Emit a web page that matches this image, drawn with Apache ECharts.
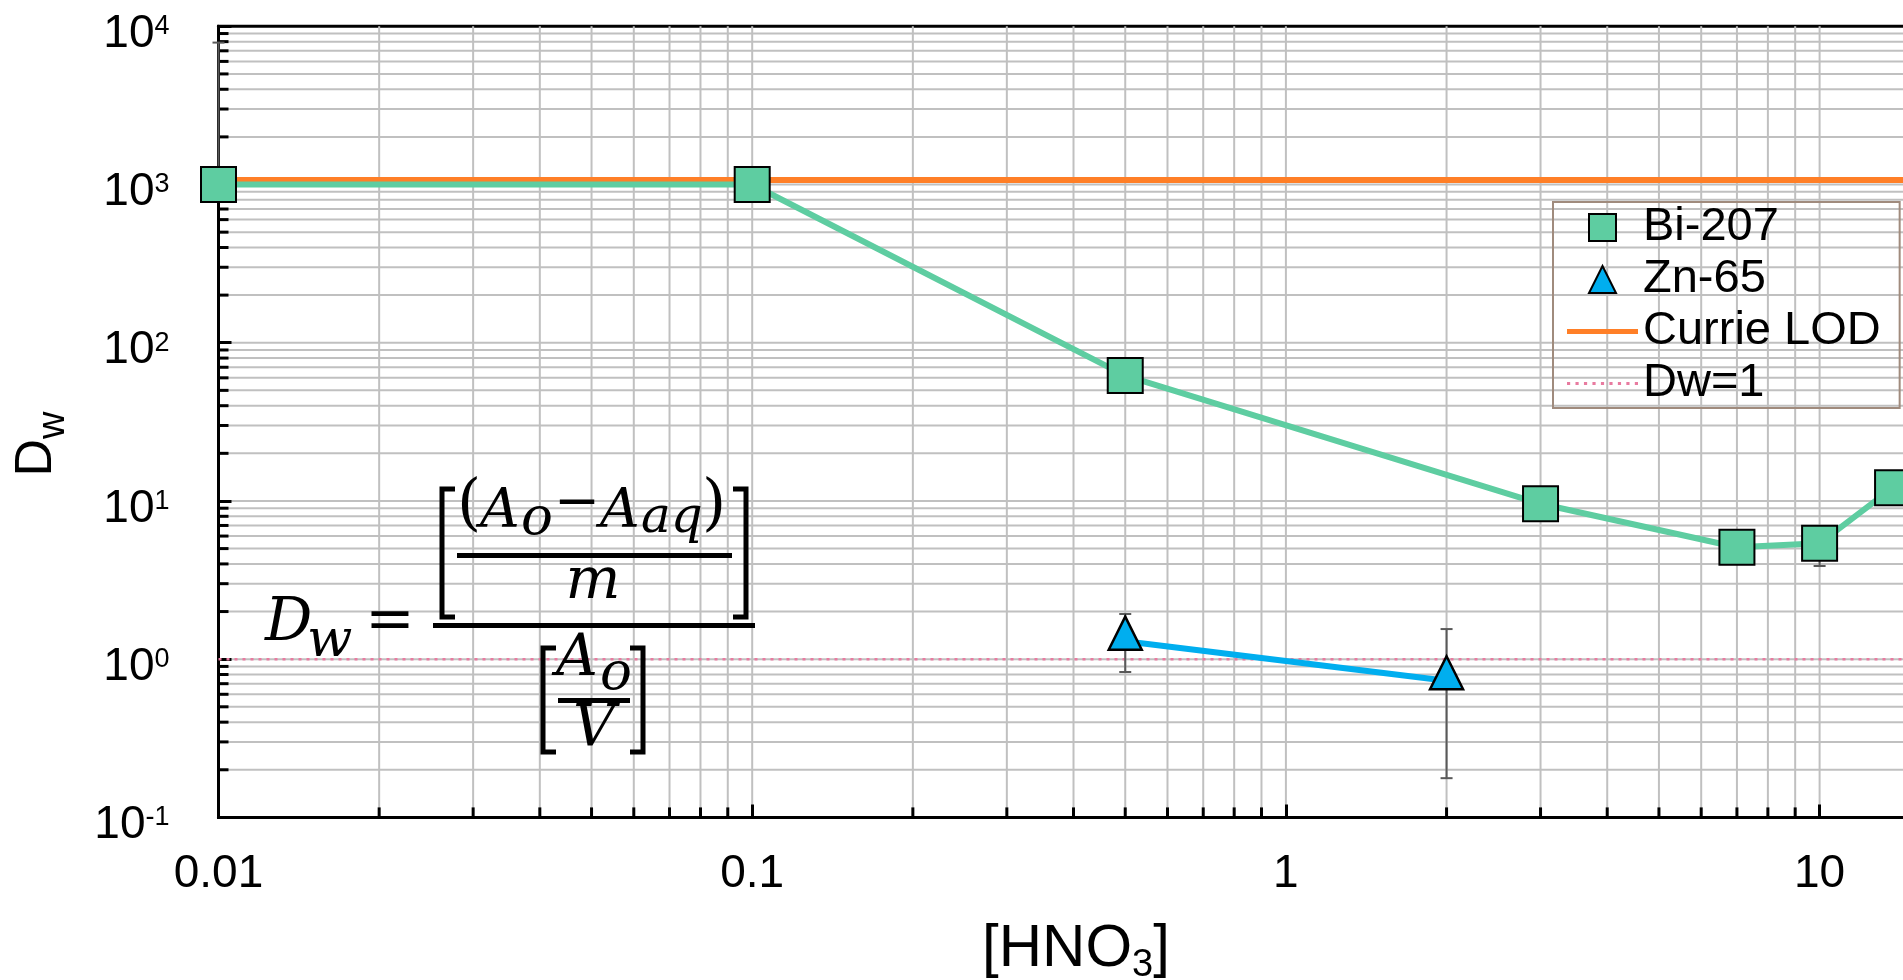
<!DOCTYPE html>
<html><head><meta charset="utf-8">
<script src="https://cdn.jsdelivr.net/npm/echarts@6/dist/echarts.min.js"></script>
<style>html,body{margin:0;padding:0;background:#fff}#c{width:1903px;height:980px}</style>
</head><body><div id="c"></div>
<script>
// ---- data ----
const biX = [0.01, 0.1, 0.5, 3, 7, 10, 13.7];
const biY = [1000, 1000, 62, 9.6, 5.1, 5.4, 12.1];
const znX = [0.5, 2];
const znY = [1.30, 0.73];
const biErrX = [0.01, 10];
const biErrLow = [1000, 3.88];
const biErrHigh = [7890, 5.4];
const znErrX = [0.5, 2];
const znErrLow = [0.83, 0.177];
const znErrHigh = [1.93, 1.55];
const lodX = [0.01, 100];
const lodY = [1069, 1069];
const dw1X = [0.01, 100];
const dw1Y = [1, 1];
const xTickLabels = ['0.01', '0.1', '1', '10', '100'];
const yTickExponents = ['-1', '0', '1', '2', '3', '4'];
const xDecades = [0.01, 0.1, 1, 10];
const yDecades = [0.1, 1, 10, 100, 1000];
const minorSteps = [2, 3, 4, 5, 6, 7, 8, 9];

// ---- styles ----
const FONT = '"Liberation Sans", Arial, sans-serif';
const SERIF = '"DejaVu Serif", "Liberation Serif", serif';
const GRID = '#C0C0C0';
const GREEN = '#5ECDA1';
const BLUE = '#00AEEF';
const ORANGE = '#FF7F27';
const PINK = '#E87BA0';
const LINE_W = 6;

// gridline values (major flag in 3rd dim)
const xGridData = [];
xDecades.forEach((d, i) => {
  if (i > 0) xGridData.push([d, 1, 1]);
  minorSteps.forEach(m => xGridData.push([+(d * m).toPrecision(6), 1, 0]));
});
xGridData.push([100, 1, 1]);
const yGridData = [];
yDecades.forEach((d, i) => {
  if (i > 0) yGridData.push([1, d, 1]);
  minorSteps.forEach(m => yGridData.push([1, +(d * m).toPrecision(6), 0]));
});

function renderXGrid(params, api) {
  const cs = params.coordSys;
  const x = api.coord([api.value(0), 1])[0];
  const ch = [{type: 'line', shape: {x1: x, y1: cs.y, x2: x, y2: cs.y + cs.height}, style: {stroke: GRID, lineWidth: 2}}];
  if (api.value(2) !== 1) ch.push({type: 'line', shape: {x1: x, y1: cs.y + cs.height, x2: x, y2: cs.y + cs.height - 10}, style: {stroke: '#000', lineWidth: 3}});
  return {type: 'group', children: ch};
}
function renderYGrid(params, api) {
  const cs = params.coordSys;
  const y = api.coord([1, api.value(1)])[1];
  const ch = [{type: 'line', shape: {x1: cs.x, y1: y, x2: cs.x + cs.width, y2: y}, style: {stroke: GRID, lineWidth: 2}}];
  if (api.value(2) !== 1) ch.push({type: 'line', shape: {x1: cs.x, y1: y, x2: cs.x + 10, y2: y}, style: {stroke: '#000', lineWidth: 3}});
  return {type: 'group', children: ch};
}
function renderErr(params, api) {
  const x = api.value(0);
  const pLo = api.coord([x, api.value(1)]);
  const pHi = api.coord([x, api.value(2)]);
  const w = 6, st = {stroke: '#595959', lineWidth: 2};
  return {type: 'group', children: [
    {type: 'line', shape: {x1: pLo[0], y1: pLo[1], x2: pHi[0], y2: pHi[1]}, style: st},
    {type: 'line', shape: {x1: pHi[0] - w, y1: pHi[1], x2: pHi[0] + w, y2: pHi[1]}, style: st},
    {type: 'line', shape: {x1: pLo[0] - w, y1: pLo[1], x2: pLo[0] + w, y2: pLo[1]}, style: st}
  ]};
}

function txt(t, x, y, fstyle, size, align) {
  return {type: 'text', x: x, y: y, z: 100, silent: true,
    style: {text: t, fontStyle: fstyle, fontSize: size, fontFamily: SERIF, fill: '#000',
      textAlign: align, align: align, textVerticalAlign: 'middle', verticalAlign: 'middle'}};
}
function bar(x, y, w, h) {
  return {type: 'rect', z: 100, silent: true, shape: {x: x, y: y, width: w, height: h}, style: {fill: '#000'}};
}
function bracket(pts) {
  return {type: 'polyline', z: 100, silent: true, shape: {points: pts}, style: {stroke: '#000', lineWidth: 5, fill: null}};
}

const graphics = [
  txt('D', 265, 625, 'italic', 59, 'left'),
  txt('w', 307, 642, 'italic', 53, 'left'),
  txt('=', 390, 624, 'normal', 59, 'center'),
  txt('(', 457, 507, 'normal', 62, 'left'),
  txt('A', 480, 513, 'italic', 55, 'left'),
  txt('o', 521, 520, 'italic', 53, 'left'),
  txt('\u2212', 577, 505, 'normal', 55, 'center'),
  txt('A', 600, 513, 'italic', 55, 'left'),
  txt('aq', 641, 519, 'italic', 50, 'left'),
  txt(')', 702, 507, 'normal', 62, 'left'),
  txt('m', 593, 583, 'italic', 58, 'center'),
  txt('A', 556, 660, 'italic', 58, 'left'),
  txt('o', 600, 675, 'italic', 53, 'left'),
  txt('V', 594, 730, 'italic', 58, 'center'),
  bar(433, 623, 322, 5),
  bar(457, 553, 275, 5),
  bar(558, 698, 72, 5),
  bracket([[455, 489], [442, 489], [442, 617], [455, 617]]),
  bracket([[733, 489], [746, 489], [746, 617], [733, 617]]),
  bracket([[556, 648], [543, 648], [543, 752], [556, 752]]),
  bracket([[630, 648], [643, 648], [643, 752], [630, 752]]),
  // x axis title
  {type: 'text', x: 1076, y: 949, z: 100, silent: true,
    style: {text: '{m|[HNO}{s|3}{m|]}', textAlign: 'center', align: 'center', textVerticalAlign: 'middle', verticalAlign: 'middle',
      rich: {m: {fontSize: 60, fontFamily: FONT, fill: '#000', lineHeight: 72},
             s: {fontSize: 38, fontFamily: FONT, fill: '#000', verticalAlign: 'bottom'}}}},
  // y axis title
  {type: 'text', x: 37, y: 444, rotation: Math.PI / 2, z: 100, silent: true,
    style: {text: '{m|D}{s|w}', textAlign: 'center', align: 'center', textVerticalAlign: 'middle', verticalAlign: 'middle',
      rich: {m: {fontSize: 52, fontFamily: FONT, fill: '#000', lineHeight: 71},
             s: {fontSize: 38, fontFamily: FONT, fill: '#000', verticalAlign: 'bottom'}}}}
];

// legend icons
const LINE_ICON = 'path://M0 0H71V5H0Z';
let dots = '';
for (let k = 0; k < 9; k++) { const x0 = k * 8; dots += 'M' + x0 + ' 0H' + (x0 + 3) + 'V3H' + x0 + 'Z'; }
const DOT_ICON = 'path://' + dots;

const chart = echarts.init(document.getElementById('c'), null, {renderer: 'canvas', width: 1903, height: 980});
chart.setOption({
  animation: false,
  backgroundColor: '#fff',
  grid: {left: 218.5, right: -450.3, top: 26.3, bottom: 162.6, show: true, borderColor: '#000', borderWidth: 3,
    backgroundColor: 'transparent', containLabel: false, outerBoundsMode: 'none'},
  xAxis: {type: 'log', logBase: 10, min: 0.01, max: 100, z: 1.5,
    axisLine: {show: true, onZero: false, lineStyle: {color: '#000', width: 3}},
    axisTick: {show: true, inside: true, length: 13, lineStyle: {color: '#000', width: 3}},
    splitLine: {show: false}, minorTick: {show: false}, minorSplitLine: {show: false},
    axisLabel: {fontSize: 46, fontFamily: FONT, color: '#000', margin: 34, hideOverlap: false,
      formatter: v => xTickLabels[Math.round(Math.log10(v)) + 2]}},
  yAxis: {type: 'log', logBase: 10, min: 0.1, max: 10000, z: 1.5,
    axisLine: {show: true, onZero: false, lineStyle: {color: '#000', width: 3}},
    axisTick: {show: true, inside: true, length: 13, lineStyle: {color: '#000', width: 3}},
    splitLine: {show: false}, minorTick: {show: false}, minorSplitLine: {show: false},
    axisLabel: {margin: 49, padding: [16, 0, 0, 0], hideOverlap: false,
      formatter: v => '{b|10}{s|' + yTickExponents[Math.round(Math.log10(v)) + 1] + '}',
      rich: {b: {fontSize: 46, fontFamily: FONT, color: '#000', lineHeight: 42},
             s: {fontSize: 27, fontFamily: FONT, color: '#000', verticalAlign: 'top'}}}},
  legend: {
    orient: 'vertical', left: 1553, top: 202, padding: [2, 19, 1, 14], itemGap: 5,
    itemWidth: 71, itemHeight: 27, borderColor: '#A08B7D', borderWidth: 2, backgroundColor: 'transparent',
    selectedMode: false,
    textStyle: {fontFamily: FONT, fontSize: 47, color: '#000', lineHeight: 47},
    data: [
      {name: 'Bi-207', icon: 'path://M0 0H10V10H0Z', itemStyle: {color: GREEN, borderColor: '#000', borderWidth: 2}},
      {name: 'Zn-65', icon: 'path://M5 0L10 10L0 10Z', itemStyle: {color: BLUE, borderColor: '#000', borderWidth: 2}},
      {name: 'Currie LOD', icon: LINE_ICON, itemStyle: {color: ORANGE, borderWidth: 0}},
      {name: 'Dw=1', icon: DOT_ICON, itemStyle: {color: PINK, borderWidth: 0}}
    ]
  },
  graphic: {elements: graphics},
  series: [
    {type: 'custom', name: 'xgrid', silent: true, z: 1, renderItem: renderXGrid, data: xGridData, encode: {x: 0, y: 1}},
    {type: 'custom', name: 'ygrid', silent: true, z: 1, renderItem: renderYGrid, data: yGridData, encode: {x: 0, y: 1}},
    {type: 'line', name: 'Dw=1', silent: true, z: 2, symbol: 'none',
      lineStyle: {color: PINK, width: 2.5, type: [3, 5]}, itemStyle: {color: PINK},
      data: dw1X.map((x, i) => [x, dw1Y[i]])},
    {type: 'line', name: 'Currie LOD', silent: true, z: 2.2, symbol: 'none',
      lineStyle: {color: ORANGE, width: LINE_W}, itemStyle: {color: ORANGE},
      data: lodX.map((x, i) => [x, lodY[i]])},
    {type: 'custom', name: 'biErr', silent: true, z: 2.4, renderItem: renderErr, encode: {x: 0, y: [1, 2]},
      data: biErrX.map((x, i) => [x, biErrLow[i], biErrHigh[i]])},
    {type: 'custom', name: 'znErr', silent: true, z: 2.4, renderItem: renderErr, encode: {x: 0, y: [1, 2]},
      data: znErrX.map((x, i) => [x, znErrLow[i], znErrHigh[i]])},
    {type: 'line', name: 'Bi-207', silent: true, z: 3, symbol: 'rect', symbolSize: 35, showAllSymbol: true,
      lineStyle: {color: GREEN, width: LINE_W}, itemStyle: {color: GREEN, borderColor: '#000', borderWidth: 2, opacity: 1},
      data: biX.map((x, i) => [x, biY[i]])},
    {type: 'line', name: 'Zn-65', silent: true, z: 3, symbol: 'triangle', symbolSize: [33, 33], symbolOffset: [0, -8], showAllSymbol: true,
      lineStyle: {color: BLUE, width: LINE_W}, itemStyle: {color: BLUE, borderColor: '#000', borderWidth: 2.5, opacity: 1},
      data: znX.map((x, i) => [x, znY[i]])}
  ]
});
</script>
</body></html>
